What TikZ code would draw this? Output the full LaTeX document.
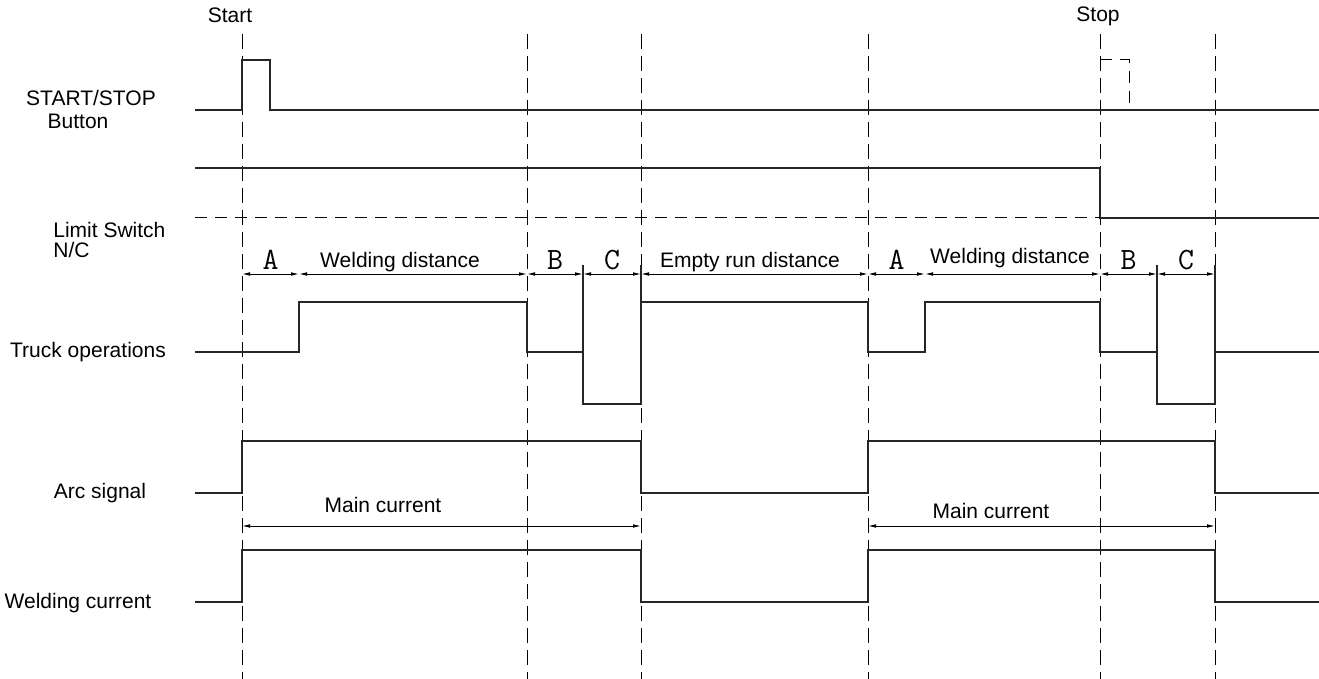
\documentclass[tikz,border=0pt]{standalone}
\usepackage{fontspec}
\setmainfont{Liberation Sans}
\usetikzlibrary{arrows.meta}

\begin{document}
\begin{tikzpicture}[x=0.5pt,y=-0.5pt,
  wave/.style={line width=0.75pt,black!85},
  guide/.style={line width=0.5pt,dash pattern=on 7.5pt off 3.5pt},
  hguide/.style={line width=0.5pt,dash pattern=on 6pt off 4pt},
  dim/.style={line width=0.45pt,{Latex[length=4pt,width=1.8pt]}-{Latex[length=4pt,width=1.8pt]}},
  sig/.style={font=\fontsize{10.5}{12}\selectfont,inner sep=0pt},
  abc/.style={font=\ttfamily\fontsize{15.5}{16}\selectfont,inner sep=0pt}]
\useasboundingbox (0,0) rectangle (1319,679);
% time marks
\foreach \x in {242,527,641,868,1100,1215}
  \draw[guide] (\x,34) -- (\x,679);
\node[sig] (start) at (230,15) {Start};
\node[sig] (stop) at (1098,16) {Stop};
% signal names
\node[sig] (btn1) at (91,98) {START/STOP};
\node[sig] (btn2) at (78,121) {Button};
\node[sig,anchor=west] (lim1) at (53,230) {Limit Switch};
\node[sig,anchor=west] (lim2) at (53,250) {N/C};
\node[sig] (truck) at (88,352) {Truck operations};
\node[sig] (arc) at (100,493) {Arc signal};
\node[sig] (weld) at (78,603) {Welding current};
% START/STOP button
\draw[wave] (195,110) -- (242,110) -- (242,60) -- (270,60) -- (270,110) -- (1319,110);
\draw[hguide] (1100,60) -- (1129,60) -- (1129,110);
% limit switch
\draw[wave] (195,168) -- (1100,168) -- (1100,218) -- (1319,218);
\draw[hguide] (195,218) -- (1100,218);
% distances
\foreach \a/\b/\t in {242/299/A,527/583/B,583/641/C,868/925/A,1100/1157/B,1157/1215/C}{
  \draw[dim] (\a,274) -- (\b,274);
  \node[abc] (d\a) at ({(\a+\b)/2},260) {\t};}
\foreach \a/\b in {299/527,641/868,925/1100}
  \draw[dim] (\a,274) -- (\b,274);
\node[sig] (wd1) at (400,262) {Welding distance};
\node[sig] (er) at (750,262) {Empty run distance};
\node[sig] (wd2) at (1010,258) {Welding distance};
% truck operations
\draw[wave] (195,352) -- (299,352) -- (299,302) -- (527,302) -- (527,352) -- (583,352)
  -- (583,404) -- (641,404) -- (641,302) -- (868,302) -- (868,352) -- (925,352)
  -- (925,302) -- (1100,302) -- (1100,352) -- (1157,352) -- (1157,404) -- (1215,404)
  -- (1215,352) -- (1319,352);
\foreach \x in {583,641,1157,1215}
  \draw[wave] (\x,265) -- (\x,404);
% arc signal
\draw[wave] (195,493) -- (242,493) -- (242,441) -- (641,441) -- (641,493) -- (868,493)
  -- (868,441) -- (1215,441) -- (1215,493) -- (1319,493);
% main current
\draw[dim] (242,526) -- (641,526);
\draw[dim] (868,526) -- (1215,526);
\node[sig] (mc1) at (383,505) {Main current};
\node[sig] (mc2) at (991,511) {Main current};
% welding current
\draw[wave] (195,602) -- (242,602) -- (242,550) -- (641,550) -- (641,602) -- (868,602)
  -- (868,550) -- (1215,550) -- (1215,602) -- (1319,602);
\end{tikzpicture}
\end{document}
